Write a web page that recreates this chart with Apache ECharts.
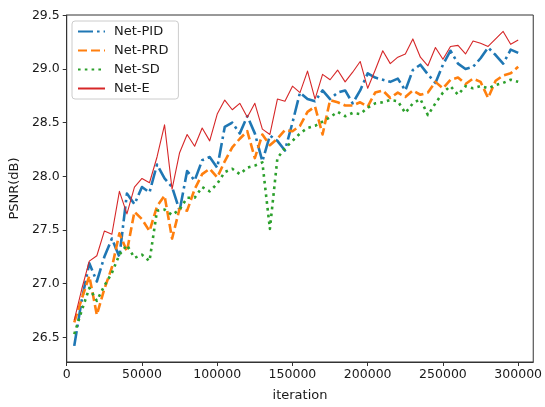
<!DOCTYPE html>
<html>
<head>
<meta charset="utf-8">
<script src="https://cdn.jsdelivr.net/npm/echarts@6/dist/echarts.min.js"></script>
<style>
html,body{margin:0;padding:0;background:#fff;}
#c{width:545px;height:407px;}
</style>
</head>
<body>
<div id="c"></div>
<script>
const iterations = [5000,10000,15000,20000,25000,30000,35000,40000,45000,50000,
  55000,60000,65000,70000,75000,80000,85000,90000,95000,100000,
  105000,110000,115000,120000,125000,130000,135000,140000,145000,150000,
  155000,160000,165000,170000,175000,180000,185000,190000,195000,200000,
  205000,210000,215000,220000,225000,230000,235000,240000,245000,250000,
  255000,260000,265000,270000,275000,280000,285000,290000,295000,300000];

const netPID = [26.42,26.85,27.19,27.02,27.25,27.42,27.25,27.84,27.74,27.90,
  27.85,28.11,27.98,27.90,27.68,28.05,27.96,28.15,28.18,28.08,
  28.46,28.50,28.40,28.56,28.40,28.14,28.38,28.33,28.24,28.50,
  28.78,28.72,28.70,28.80,28.72,28.78,28.80,28.68,28.80,28.96,
  28.92,28.90,28.88,28.91,28.80,28.99,29.04,28.95,28.87,29.04,
  29.17,29.05,29.00,29.02,29.10,29.20,29.13,29.05,29.18,29.15];

const netPRD = [26.64,26.86,27.07,26.71,26.95,27.15,27.47,27.30,27.67,27.60,
  27.49,27.72,27.82,27.42,27.70,27.68,27.88,28.02,28.07,27.99,
  28.14,28.27,28.35,28.42,28.17,28.39,28.29,28.35,28.43,28.42,
  28.47,28.60,28.65,28.39,28.71,28.69,28.66,28.66,28.69,28.65,
  28.78,28.80,28.73,28.78,28.74,28.80,28.76,28.78,28.88,28.82,
  28.90,28.92,28.86,28.91,28.88,28.73,28.89,28.94,28.96,29.02];

const netSD = [26.53,26.75,26.96,26.84,26.98,27.10,27.27,27.36,27.24,27.27,
  27.21,27.68,27.69,27.64,27.69,27.80,27.80,27.90,27.86,27.93,
  28.04,28.07,28.02,28.08,28.10,28.13,27.51,28.17,28.26,28.33,
  28.40,28.45,28.47,28.51,28.55,28.60,28.56,28.59,28.58,28.64,
  28.68,28.69,28.71,28.70,28.59,28.68,28.72,28.57,28.68,28.78,
  28.84,28.76,28.84,28.82,28.84,28.82,28.85,28.87,28.90,28.88];

const netE = [26.66,26.95,27.21,27.26,27.49,27.46,27.86,27.65,27.90,27.98,
  27.94,28.18,28.48,27.88,28.22,28.39,28.28,28.45,28.33,28.58,
  28.71,28.62,28.68,28.55,28.68,28.44,28.39,28.72,28.70,28.84,
  28.78,28.98,28.72,28.95,28.90,28.99,28.88,28.97,29.07,28.82,
  28.99,29.17,29.05,29.11,29.14,29.28,29.11,29.03,29.20,29.09,
  29.21,29.22,29.14,29.26,29.24,29.21,29.28,29.35,29.23,29.27];

const xTicks = [0,50000,100000,150000,200000,250000,300000];
const yTicks = [26.5,27.0,27.5,28.0,28.5,29.0,29.5];

const seriesNames = ['Net-PID','Net-PRD','Net-SD','Net-E'];
const seriesColors = ['#1f77b4','#ff7f0e','#2ca02c','#d62728'];

function pairs(vals){ return iterations.map((x,i)=>[x, vals[i]]); }

const font = 'DejaVu Sans';
const chart = echarts.init(document.getElementById('c'), null, {renderer:'canvas'});
const styles = [
  {width:2.6, type:[15,4,2.6,4], cap:'butt'},
  {width:2.6, type:[9,4], cap:'butt'},
  {width:2.6, type:[2.6,4.2], cap:'butt'},
  {width:1.1, type:'solid', cap:'butt'}
];
const dataSets = [netPID, netPRD, netSD, netE];

chart.setOption({
  animation:false,
  backgroundColor:'#fff',
  grid:{left:65, right:11, top:15, bottom:42, show:true, borderColor:'#333', borderWidth:1, backgroundColor:'transparent'},
  legend:{
    orient:'vertical', left:72, top:21,
    itemWidth:27, itemHeight:14, itemGap:6,
    padding:[4,10,4,5],
    backgroundColor:'rgba(255,255,255,0.8)', borderColor:'#cccccc', borderWidth:1, borderRadius:3,
    textStyle:{fontFamily:font, fontSize:13, color:'#1a1a1a', padding:[0,0,0,4]},
    itemStyle:{opacity:0},
    data:seriesNames
  },
  xAxis:{
    type:'value', min:0, max:310000,
    name:'iteration', nameLocation:'middle', nameGap:27,
    nameTextStyle:{fontFamily:font, fontSize:13, color:'#1a1a1a'},
    axisLine:{show:true, lineStyle:{color:'#333', width:1}},
    axisTick:{show:true, inside:false, length:4, lineStyle:{color:'#333'}, customValues:xTicks},
    axisLabel:{fontFamily:font, fontSize:12.5, color:'#1a1a1a', margin:6, customValues:xTicks, formatter:v=>String(v)},
    splitLine:{show:false}
  },
  yAxis:{
    type:'value', min:26.27, max:29.503,
    name:'PSNR(dB)', nameLocation:'middle', nameGap:42, nameRotate:90,
    nameTextStyle:{fontFamily:font, fontSize:13, color:'#1a1a1a'},
    axisLine:{show:true, lineStyle:{color:'#333', width:1}},
    axisTick:{show:true, inside:false, length:4, lineStyle:{color:'#333'}, customValues:yTicks},
    axisLabel:{fontFamily:font, fontSize:12.5, color:'#1a1a1a', margin:7, customValues:yTicks, formatter:v=>v.toFixed(1)},
    splitLine:{show:false}
  },
  series:seriesNames.map((n,i)=>({
    name:n, type:'line', data:pairs(dataSets[i]),
    showSymbol:false, symbol:'none', smooth:false,
    color:seriesColors[i],
    lineStyle:{color:seriesColors[i], width:styles[i].width, type:styles[i].type, cap:styles[i].cap, join:'round'},
    z:2+i
  }))
});
</script>
</body>
</html>
